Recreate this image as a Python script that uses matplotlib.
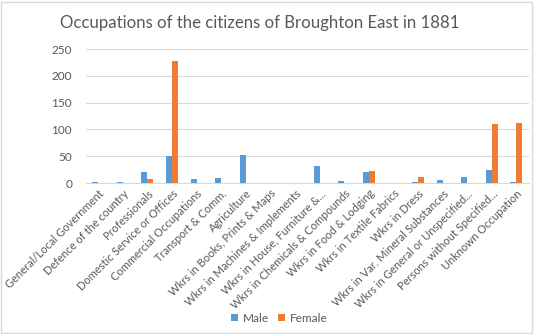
import matplotlib.pyplot as plt
import numpy as np
from matplotlib.patches import Rectangle

plt.rcParams['font.family'] = ['Lato', 'DejaVu Sans']

categories = ["General/Local Government", "Defence of the country", "Professionals",
              "Domestic Service or Offices", "Commercial Occupations", "Transport & Comm.",
              "Agriculture", "Wkrs in Books, Prints & Maps", "Wkrs in Machines & Implements",
              "Wkrs in House, Furniture &...", "Wkrs in Chemicals & Compounds",
              "Wkrs in Food & Lodging", "Wkrs in Textile Fabrics", "Wkrs in Dress",
              "Wkrs in Var. Mineral Substances", "Wkrs in General or Unspecified...",
              "Persons without Specified...", "Unknown Occupation"]
male = [1, 1, 20, 50, 7, 9, 52, 0, 0, 31, 3, 20, 0, 2, 5, 11, 24, 2]
female = [0, 0, 7, 227, 0, 0, 0, 0, 0, 0, 0, 23, 0, 12, 0, 0, 110, 112]

grey = "#595959"
fig = plt.figure(figsize=(5.34, 3.34), dpi=100)
ax = fig.add_axes([0.161, 0.452, 0.829, 0.401])

x = np.arange(len(categories))
w = 0.245
ax.bar(x - w / 2, male, w, color="#5B9BD5", label="Male", zorder=3)
ax.bar(x + w / 2, female, w, color="#ED7D31", label="Female", zorder=3)

ax.set_xlim(-0.5, len(categories) - 0.5)
ax.set_ylim(0, 250)
ax.set_yticks([0, 50, 100, 150, 200, 250])
ax.yaxis.grid(True, color="#D9D9D9", linewidth=0.8, zorder=0)
for s in ["top", "right", "left"]:
    ax.spines[s].set_visible(False)
ax.spines["bottom"].set_color("#D9D9D9")
ax.tick_params(axis="both", length=0, colors=grey, labelsize=8.5)
ax.tick_params(axis="y", pad=10)
ax.set_xticks(x)
ax.set_xticklabels(categories, rotation=45, ha="right", rotation_mode="anchor", fontsize=8.0)

fig.suptitle("Occupations of the citizens of Broughton East in 1881", x=0.487, y=0.955,
             fontsize=12.1, color=grey)
fig.legend(loc="center", bbox_to_anchor=(0.523, 0.047), ncol=2, frameon=False, fontsize=8.5,
           handlelength=0.6, handleheight=0.6, handletextpad=0.4, columnspacing=0.7,
           labelcolor=grey)
fig.patches.append(Rectangle((0.002, 0.003), 0.994, 0.992, transform=fig.transFigure,
                             fill=False, edgecolor="#D9D9D9", linewidth=1))

plt.savefig("out.png", dpi=100)
